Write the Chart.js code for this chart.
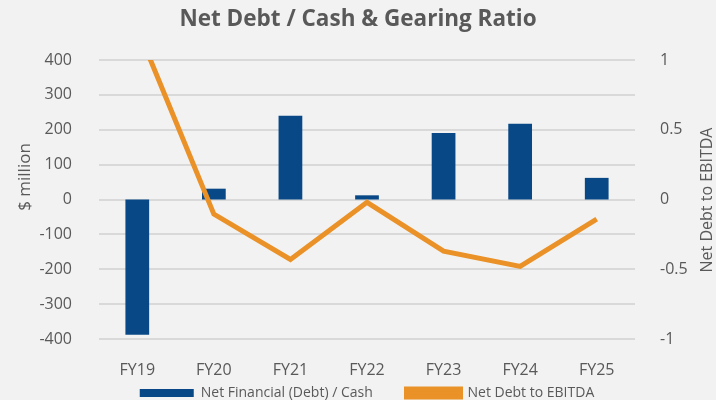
<!DOCTYPE html>
<html>
<head>
<meta charset="utf-8">
<script src="https://cdn.jsdelivr.net/npm/chart.js@4"></script>
<style>
  html, body { margin: 0; padding: 0; background: #f2f2f2; }
  #wrap { position: relative; width: 716px; height: 400px; }
  #wrap canvas { position: absolute; left: 0; top: 0; }
</style>
</head>
<body>
<div id="wrap">
  <canvas id="grid-layer" width="716" height="400"></canvas>
  <canvas id="gearing-chart" width="716" height="400"></canvas>
</div>
<script>
const years = ['FY19', 'FY20', 'FY21', 'FY22', 'FY23', 'FY24', 'FY25'];
const netCash = [-388, 31, 240, 12, 191, 217, 62];
const debtToEbitda = [1.23, -0.105, -0.43, -0.02, -0.37, -0.48, -0.14];
const cashTicks = [-400, -300, -200, -100, 0, 100, 200, 300, 400];

const grey = '#595959';
const tickFont = { family: 'Open Sans', size: 16 };

// horizontal gridlines at the left axis ticks, as thin filled rects
function paintGrid(c, chart) {
    const area = chart.chartArea;
    const y = chart.scales.y;
    c.save();
    c.globalAlpha = 1;
    c.globalCompositeOperation = 'source-over';
    c.fillStyle = '#d9d9d9';
    cashTicks.forEach(v => {
        const py = y.getPixelForValue(v);
        c.fillRect(area.left, Math.round(py) - 1, area.right - area.left, 2);
    });
    c.restore();
}

const gridLines = {
    id: 'gridLines',
    beforeDatasetsDraw(chart) {
        paintGrid(chart.ctx, chart);
    }
};

// both axis titles read bottom-to-top, so draw them here
const axisTitles = {
    id: 'axisTitles',
    afterDraw(chart) {
        const c = chart.ctx;
        c.save();
        c.fillStyle = grey;
        c.textAlign = 'center';
        c.textBaseline = 'middle';
        c.font = '17px "Open Sans"';
        c.translate(25, 177);
        c.rotate(-Math.PI / 2);
        c.fillText('$ million', 0, 0);
        c.restore();
        c.save();
        c.fillStyle = grey;
        c.textAlign = 'center';
        c.textBaseline = 'middle';
        c.font = '16px "Open Sans"';
        c.translate(707, 200);
        c.rotate(-Math.PI / 2);
        c.fillText('Net Debt to EBITDA', 0, 0);
        c.restore();
    }
};

const ctx = document.getElementById('gearing-chart').getContext('2d');
const chart = new Chart(ctx, {
    data: {
        labels: years,
        datasets: [
            {
                type: 'line',
                label: 'Net Debt to EBITDA',
                data: debtToEbitda,
                yAxisID: 'y1',
                borderColor: '#ea9127',
                backgroundColor: '#ea9127',
                borderWidth: 5,
                pointRadius: 0,
                tension: 0,
                fill: false,
                clip: 0,
                order: 0
            },
            {
                type: 'bar',
                label: 'Net Financial (Debt) / Cash',
                data: netCash,
                yAxisID: 'y',
                backgroundColor: '#084886',
                barPercentage: 0.31,
                categoryPercentage: 1,
                order: 1
            }
        ]
    },
    options: {
        responsive: false,
        animation: false,
        layout: { padding: { top: 0, left: 0, right: 0, bottom: -10 } },
        plugins: {
            title: {
                display: true,
                text: 'Net Debt / Cash & Gearing Ratio',
                color: grey,
                font: { family: 'Open Sans', size: 22.5, weight: 'bold' },
                padding: { top: 6, bottom: 27 }
            },
            legend: {
                position: 'bottom',
                fullSize: false,
                reverse: true,
                labels: {
                    color: grey,
                    font: { family: 'Open Sans', size: 14 },
                    boxWidth: 54,
                    boxHeight: 8,
                    padding: 1,
                    // extra room between the two entries
                    generateLabels: chart => {
                        const items = Chart.defaults.plugins.legend.labels.generateLabels(chart);
                        items.forEach(it => {
                            if (it.datasetIndex === 1) it.text = it.text + '         ';
                        });
                        return items;
                    }
                }
            },
            tooltip: { enabled: false }
        },
        scales: {
            x: {
                grid: { display: false },
                border: { display: false },
                ticks: { color: grey, font: tickFont, padding: 14 },
                afterFit: scale => { scale.height = 46; }
            },
            y: {
                position: 'left',
                min: cashTicks[0],
                max: cashTicks[cashTicks.length - 1],
                ticks: { stepSize: 100, color: grey, font: tickFont, padding: 19 },
                grid: { display: false },
                border: { display: false },
                afterFit: scale => { scale.width = 99; }
            },
            y1: {
                position: 'right',
                min: -1,
                max: 1,
                ticks: {
                    stepSize: 0.5, color: grey, font: tickFont, padding: 17,
                    callback: v => String(v)
                },
                grid: { display: false },
                border: { display: false },
                afterFit: scale => { scale.width = 81; }
            }
        }
    },
    plugins: [gridLines, axisTitles]
});

// same gridlines on a layer under the chart canvas
paintGrid(document.getElementById('grid-layer').getContext('2d'), chart);
</script>
</body>
</html>
